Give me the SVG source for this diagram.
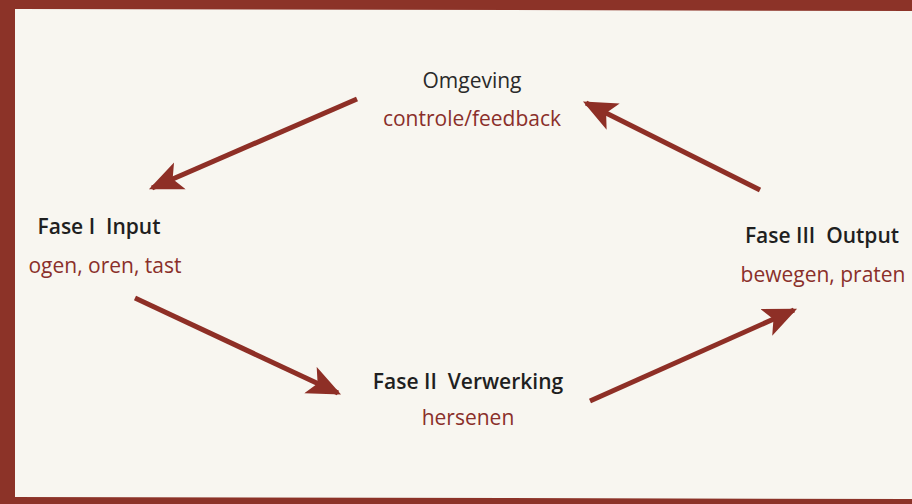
<svg xmlns="http://www.w3.org/2000/svg" width="912" height="504" viewBox="0 0 912 504">
<style>
.t{font-family:"Open Sans","Noto Sans","Liberation Sans",sans-serif;font-size:21px;text-anchor:middle;white-space:pre}
.h{fill:#1f1f1f;font-weight:600}
.m{fill:#2a2a2a;font-weight:400}
.s{fill:#8a2f2a}
.c{stroke:#8e2f26;stroke-width:5;fill:none}
</style>
<defs>
<marker id="ah" markerUnits="userSpaceOnUse" markerWidth="36" markerHeight="30" refX="27" refY="13" orient="auto" viewBox="0 0 32 26">
<path d="M0,0 L30,13 L0,26 L7,13 Z" fill="#8e2f26"/>
</marker>
</defs>
<rect x="0" y="0" width="912" height="504" fill="#8c3328"/>
<path d="M15,9 L912,11 L912,499 L15,497 Z" fill="#f8f6f0"/>
<g id="connectors">
<line class="c" x1="357" y1="99" x2="152" y2="188" marker-end="url(#ah)"/>
<line class="c" x1="760" y1="190" x2="586" y2="103" marker-end="url(#ah)"/>
<line class="c" x1="135" y1="298" x2="338" y2="393" marker-end="url(#ah)"/>
<line class="c" x1="590" y1="401" x2="794" y2="310" marker-end="url(#ah)"/>
</g>
<g id="omgeving">
<text class="t m" x="472" y="88">Omgeving</text>
<text class="t s" x="472" y="126">controle/feedback</text>
</g>
<g id="fase1">
<text class="t h" x="99" y="234">Fase I  Input</text>
<text class="t s" x="105" y="273">ogen, oren, tast</text>
</g>
<g id="fase2">
<text class="t h" x="468" y="389">Fase II  Verwerking</text>
<text class="t s" x="468" y="425">hersenen</text>
</g>
<g id="fase3">
<text class="t h" x="822" y="243">Fase III  Output</text>
<text class="t s" x="823" y="282">bewegen, praten</text>
</g>
</svg>
